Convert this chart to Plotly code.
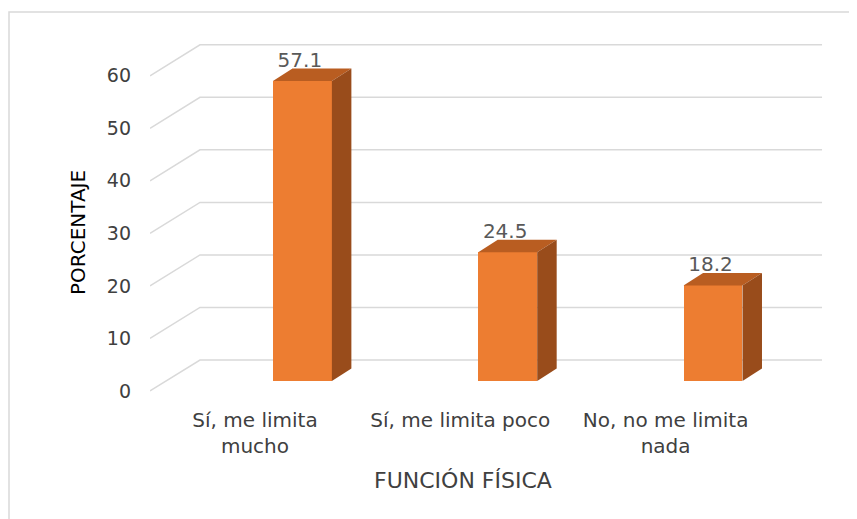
import plotly.graph_objects as go

# ---- data ----
categories = ["Sí, me limita<br>mucho", "Sí, me limita poco", "No, no me limita<br>nada"]
values = [57.1, 24.5, 18.2]
y_ticks = [0, 10, 20, 30, 40, 50, 60]
x_title = "FUNCIÓN FÍSICA"
y_title = "PORCENTAJE"

# ---- 3D-look geometry (in axis units) ----
BAR_SHIFT = 0.231      # bar front face centre offset from category label
BAR_W = 0.287          # bar width
BAR_DX = 0.095         # bar depth, x
BAR_DY = 2.38          # bar depth, y
WALL_X0 = -0.5114      # front-left end of grid diagonals
WALL_DX = 0.2435       # wall depth, x
WALL_BACK = 4.0        # back-wall gridline offset (value units)
WALL_FRONT = -1.9      # front diagonal end offset (value units)
GRID_END = 2.762
X_MAX = 2.7813
LABEL_OFF = 3.7

FRONT = "#ED7D31"
TOP = "#B95D21"
SIDE = "#994C1B"
GRID = "#D9D9D9"
FONT = "DejaVu Sans"

# page layout (plot area in figure pixels)
ML, MR, MT, MB = 142, 39, 22, 127
PW, PH = 857 - ML - MR, 519 - MT - MB

fig = go.Figure()

# gridlines (diagonal + back wall) drawn beneath the bars
shapes = []
for v in y_ticks:
    shapes.append(dict(
        type="path", xref="x", yref="y", layer="below",
        path=(f"M {WALL_X0},{v + WALL_FRONT} L {WALL_X0 + WALL_DX},{v + WALL_BACK} "
              f"L {GRID_END},{v + WALL_BACK}"),
        line=dict(color=GRID, width=1.5)))

xs = [i + BAR_SHIFT for i in range(len(values))]

# front faces
fig.add_trace(go.Bar(
    x=xs, y=values, width=BAR_W,
    marker=dict(color=FRONT, line=dict(width=0)),
    showlegend=False, hoverinfo="skip"))

# top and side faces
for xc, v in zip(xs, values):
    xl, xr = xc - BAR_W / 2, xc + BAR_W / 2
    fig.add_trace(go.Scatter(
        x=[xl, xr, xr + BAR_DX, xl + BAR_DX, xl],
        y=[v, v, v + BAR_DY, v + BAR_DY, v],
        fill="toself", fillcolor=TOP, mode="lines",
        line=dict(width=0, color=TOP), hoverinfo="skip", showlegend=False))
    fig.add_trace(go.Scatter(
        x=[xr, xr + BAR_DX, xr + BAR_DX, xr, xr],
        y=[0, BAR_DY, v + BAR_DY, v, 0],
        fill="toself", fillcolor=SIDE, mode="lines",
        line=dict(width=0, color=SIDE), hoverinfo="skip", showlegend=False))

# data labels
fig.add_trace(go.Scatter(
    x=[x + BAR_DX / 2 - 0.06 for x in xs], y=[v + LABEL_OFF for v in values],
    mode="text", text=[f"{v:.1f}" for v in values],
    textposition="middle center",
    textfont=dict(family=FONT, size=20, color="#595959"),
    hoverinfo="skip", showlegend=False))

# outer chart border
shapes.append(dict(type="rect", xref="paper", yref="paper",
                   x0=(1 - ML) / PW, x1=1.2, y0=-0.5, y1=(MT + PH - 4) / PH,
                   line=dict(color=GRID, width=1.5), layer="below"))

fig.update_layout(
    width=857, height=519,
    margin=dict(l=ML, r=MR, t=MT, b=MB),
    paper_bgcolor="white", plot_bgcolor="white",
    bargap=0,
    xaxis=dict(
        range=[WALL_X0, X_MAX], tickmode="array",
        tickvals=list(range(len(categories))), ticktext=categories,
        showgrid=False, zeroline=False, showline=False, ticks="",
        ticklabelstandoff=6,
        tickfont=dict(family=FONT, size=20, color="#404040")),
    yaxis=dict(
        range=[-3.616, 66.81], tickmode="array",
        tickvals=[v + WALL_FRONT for v in y_ticks],
        ticktext=[str(v) for v in y_ticks],
        showgrid=False, zeroline=False, showline=False, ticks="",
        ticklabelstandoff=18,
        tickfont=dict(family=FONT, size=19, color="#404040")),
    annotations=[
        dict(text=y_title, textangle=-90, xref="paper", yref="paper",
             x=(70 - ML) / PW, y=(MT + PH - 225) / PH,
             xanchor="center", yanchor="middle", showarrow=False,
             font=dict(family=FONT, size=20, color="#000000")),
        dict(text=x_title, xref="paper", yref="paper",
             x=(455 - ML) / PW, y=(MT + PH - 472) / PH,
             xanchor="center", yanchor="middle", showarrow=False,
             font=dict(family=FONT, size=22, color="#404040")),
    ],
    shapes=shapes,
)

fig.write_html("out.html")
